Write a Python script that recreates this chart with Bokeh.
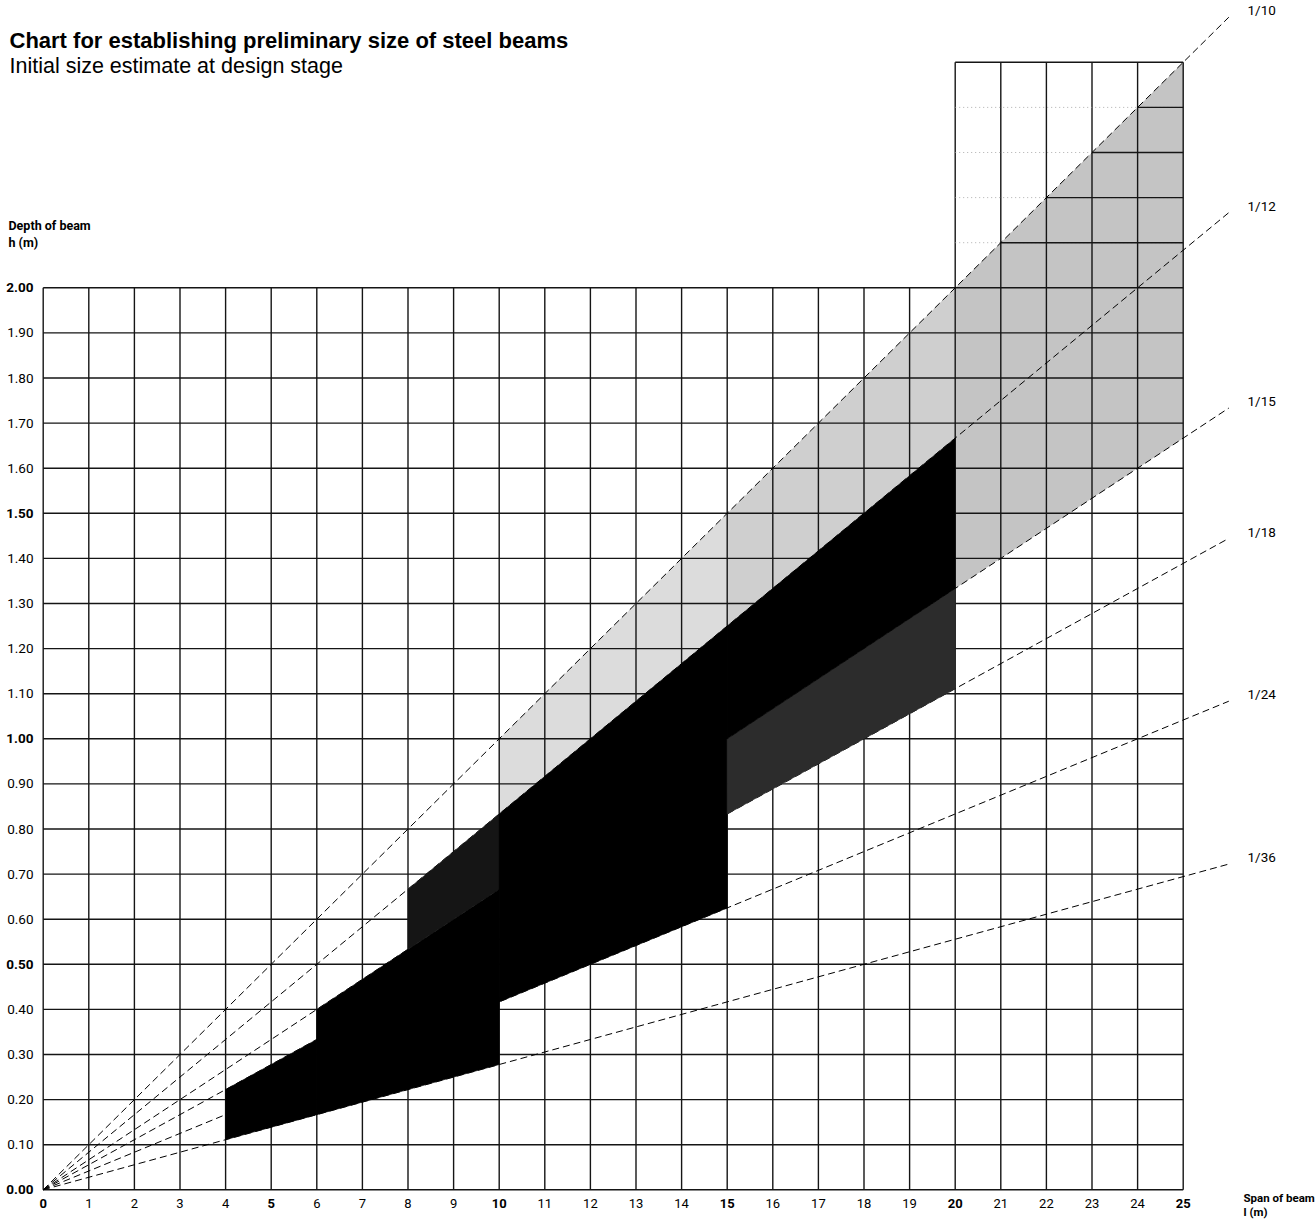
from bokeh.plotting import figure
from bokeh.models import Range1d, ColumnDataSource
from bokeh.core.properties import value
from bokeh.embed import file_html
from bokeh.resources import INLINE

# ---------------- data ----------------
title_text = "Chart for establishing preliminary size of steel beams"
subtitle_text = "Initial size estimate at design stage"
y_title_lines = ["Depth of beam", "h (m)"]
x_title_lines = ["Span of beam", "l (m)"]

span_ticks = [0, 1, 2, 3, 4, 5, 6, 7, 8, 9, 10, 11, 12, 13, 14, 15, 16, 17, 18, 19, 20, 21, 22, 23, 24, 25]
span_labels = ["0", "1", "2", "3", "4", "5", "6", "7", "8", "9", "10", "11", "12", "13",
               "14", "15", "16", "17", "18", "19", "20", "21", "22", "23", "24", "25"]
span_bold = [0, 5, 10, 15, 20, 25]

depth_ticks = [0.0, 0.1, 0.2, 0.3, 0.4, 0.5, 0.6, 0.7, 0.8, 0.9, 1.0,
               1.1, 1.2, 1.3, 1.4, 1.5, 1.6, 1.7, 1.8, 1.9, 2.0]
depth_labels = ["0.00", "0.10", "0.20", "0.30", "0.40", "0.50", "0.60", "0.70", "0.80", "0.90", "1.00",
                "1.10", "1.20", "1.30", "1.40", "1.50", "1.60", "1.70", "1.80", "1.90", "2.00"]
depth_bold = [0.0, 0.5, 1.0, 1.5, 2.0]

# span/depth ratio lines  (h = l / n)
ratio_denoms = [10, 12, 15, 18, 24, 36]
ratio_labels = ["1/10", "1/12", "1/15", "1/18", "1/24", "1/36"]
ratio_line_end = 26

# grid extension at the top right
ext_span_start = 20
ext_depth_top = 2.5
ext_depth_ticks = [2.1, 2.2, 2.3, 2.4]

# light stippled zone (between ratio lines)
zone_start = [10, 15, 20]
zone_end = [15, 20, 25]
zone_lower = [15, 15, 15]
zone_upper = [10, 10, 10]
zone_color = ["#dcdcdc", "#cfcfcf", "#c4c4c4"]

# dark beam bands (span range, lower ratio, upper ratio)
band_start = [4, 6, 8, 8, 10, 15, 15]
band_end = [6, 8, 10, 10, 15, 20, 20]
band_lower = [36, 36, 36, 15, 24, 18, 15]
band_upper = [18, 15, 15, 12, 12, 15, 12]
band_color = ["#000000", "#000000", "#000000", "#151515", "#000000", "#2c2c2c", "#000000"]

# ---------------- layout helpers (page pixel -> data) ----------------
W, H = 1316, 1224
OFF = 0                 # page offset of the figure
X0, Y0 = 42.7, 1189.3   # page pixel of the origin
SX, SY = 45.6, 451.0    # pixels per unit


def dx(page_px):
    return (page_px - X0) / SX


def dy(page_py):
    return (Y0 - page_py) / SY


p = figure(width=W, height=H, output_backend="svg", toolbar_location=None,
           x_axis_type=None, y_axis_type=None,
           x_range=Range1d(dx(OFF), dx(OFF + W)), y_range=Range1d(dy(OFF + H), dy(OFF)),
           min_border=0, outline_line_color=None)
p.xgrid.visible = False
p.ygrid.visible = False
p.background_fill_color = "white"
p.border_fill_color = "white"

NARROW = "Liberation Sans Narrow, Arial Narrow, Roboto, sans-serif"
SANS = "Liberation Sans, Arial, Helvetica, sans-serif"

# ---- light zone ----
zx, zy = [], []
for s, e, lo, up in zip(zone_start, zone_end, zone_lower, zone_upper):
    zx.append([s, e, e, s])
    zy.append([s / lo, e / lo, e / up, s / up])
p.patches(zx, zy, fill_color=zone_color, line_color=None)

# ---- grid ----
gmax_x = span_ticks[-1]
gmax_y = depth_ticks[-1]
vx0, vy0, vx1, vy1 = [], [], [], []
for t in span_ticks:
    top = ext_depth_top if t >= ext_span_start else gmax_y
    vx0.append(t); vy0.append(0); vx1.append(t); vy1.append(top)
for d in depth_ticks:
    vx0.append(0); vy0.append(d); vx1.append(gmax_x); vy1.append(d)
vx0.append(ext_span_start); vy0.append(ext_depth_top); vx1.append(gmax_x); vy1.append(ext_depth_top)
p.segment(vx0, vy0, vx1, vy1, line_color="#151515", line_width=1.4)

# faint extension lines + solid part inside the stippled zone
p.segment([ext_span_start] * len(ext_depth_ticks), ext_depth_ticks,
          [gmax_x] * len(ext_depth_ticks), ext_depth_ticks,
          line_color="#9a9a9a", line_width=0.8, line_dash="1 3")
p.segment([d * zone_upper[-1] for d in ext_depth_ticks], ext_depth_ticks,
          [gmax_x] * len(ext_depth_ticks), ext_depth_ticks,
          line_color="#151515", line_width=1.4)

# ---- ratio lines ----
p.segment([0] * len(ratio_denoms), [0] * len(ratio_denoms),
          [ratio_line_end] * len(ratio_denoms), [ratio_line_end / n for n in ratio_denoms],
          line_color="black", line_width=1, line_dash="7 4")

# ---- dark bands ----
bx, by = [], []
for s, e, lo, up in zip(band_start, band_end, band_lower, band_upper):
    bx.append([s, e, e, s])
    by.append([s / lo, e / lo, e / up, s / up])
p.patches(bx, by, fill_color=band_color, line_color=band_color, line_width=0.6)

# ---- tick labels ----
xs = ColumnDataSource(dict(
    x=span_ticks, y=[dy(1203)] * len(span_ticks), text=span_labels,
    style=["bold" if t in span_bold else "normal" for t in span_ticks]))
p.text("x", "y", text="text", source=xs, text_font=value(NARROW), text_font_size="13px",
       text_font_style="style", text_align="center", text_baseline="middle", text_color="black")

ys = ColumnDataSource(dict(
    x=[dx(33)] * len(depth_ticks), y=depth_ticks, text=depth_labels,
    style=["bold" if any(abs(t - b) < 1e-9 for b in depth_bold) else "normal" for t in depth_ticks]))
p.text("x", "y", text="text", source=ys, text_font=value(NARROW), text_font_size="13.5px",
       text_font_style="style", text_align="right", text_baseline="middle", text_color="black")

# ---- ratio labels ----
p.text([dx(1247)] * len(ratio_denoms), [ratio_line_end / n + 0.015 for n in ratio_denoms],
       text=ratio_labels, text_font=value(NARROW), text_font_size="13.5px",
       text_align="left", text_baseline="middle", text_color="black")

# ---- titles ----
p.text([dx(9)], [dy(40)], text=[title_text], text_font=value(SANS), text_font_size="22px",
       text_font_style="bold", text_align="left", text_baseline="alphabetic", text_color="black")
p.text([dx(9)], [dy(65)], text=[subtitle_text], text_font=value(SANS), text_font_size="21.5px",
       text_align="left", text_baseline="alphabetic", text_color="black")

p.text([dx(8), dx(8)], [dy(225), dy(242)], text=y_title_lines, text_font=value(NARROW),
       text_font_size="12.5px", text_font_style="bold", text_align="left",
       text_baseline="middle", text_color="black")
p.text([dx(1243), dx(1243)], [dy(1197), dy(1211)], text=x_title_lines, text_font=value(NARROW),
       text_font_size="11.5px", text_font_style="bold", text_align="left",
       text_baseline="middle", text_color="black")

open("out.html", "w").write(file_html(p, INLINE))
